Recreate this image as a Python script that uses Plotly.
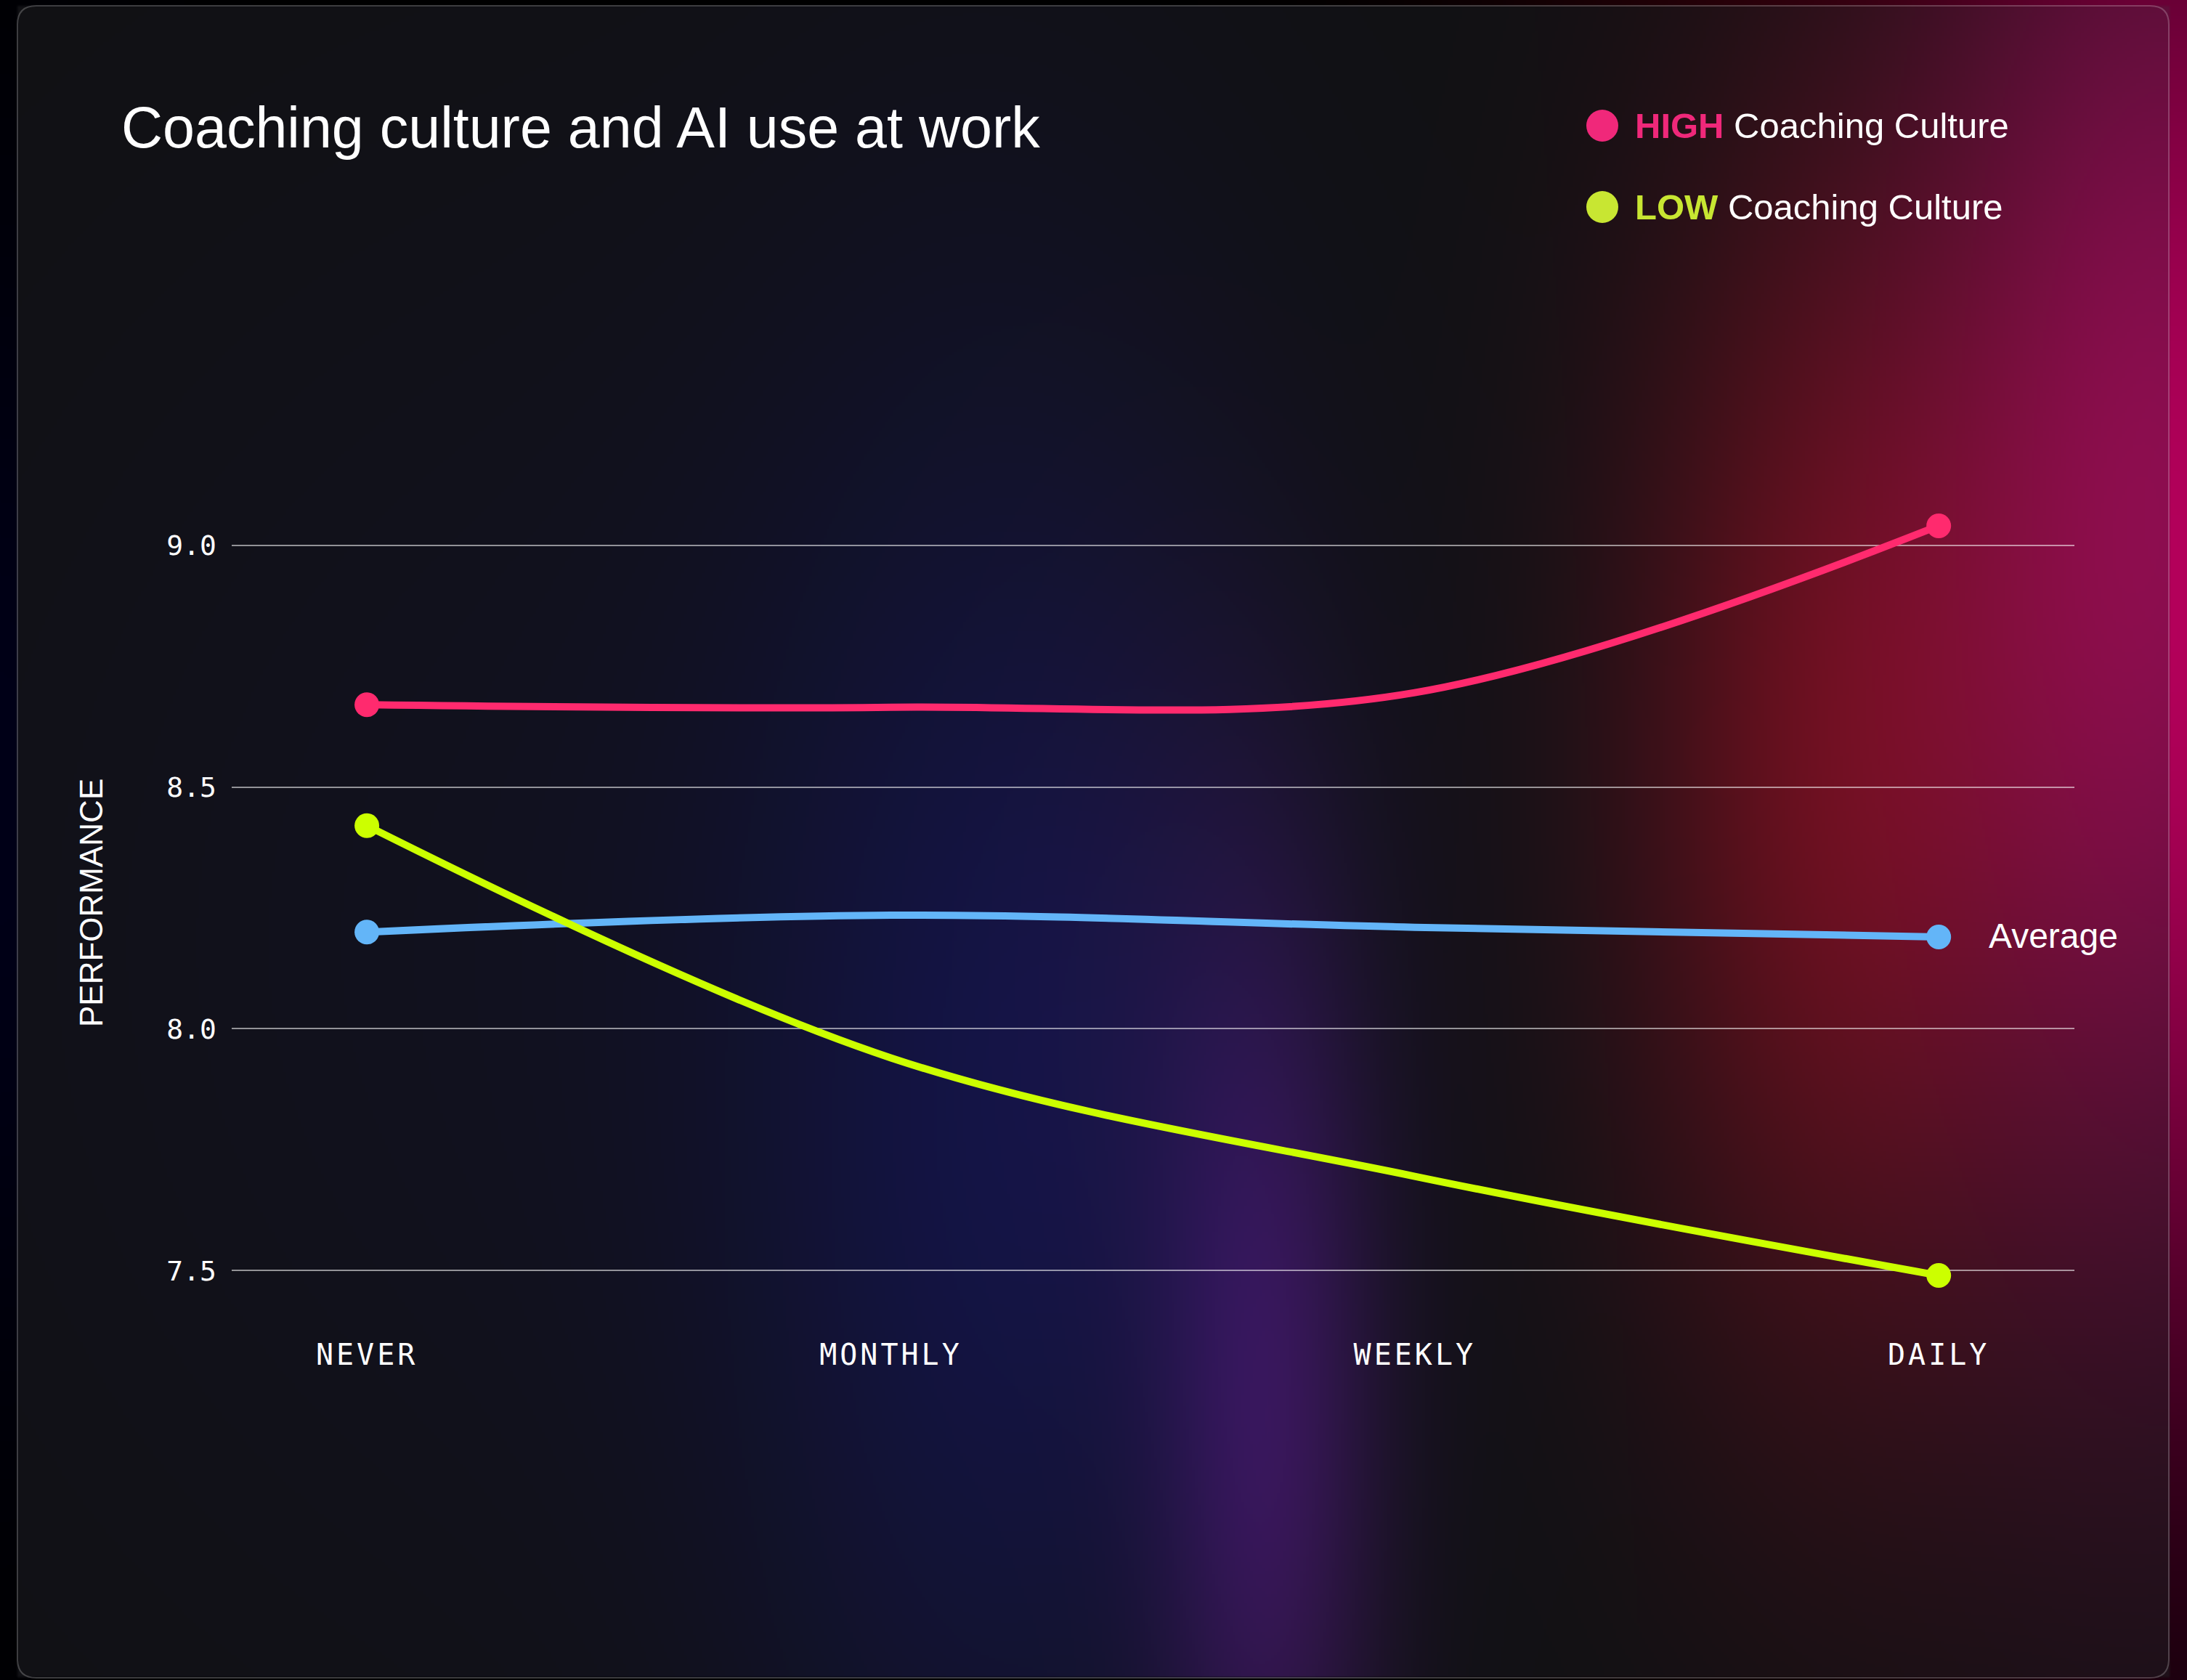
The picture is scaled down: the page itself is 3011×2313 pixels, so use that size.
import base64
import struct
import zlib

import numpy as np
import plotly.graph_objects as go

# ---- data -------------------------------------------------------------
frequency = ["NEVER", "MONTHLY", "WEEKLY", "DAILY"]
high_coaching = [8.67, 8.665, 8.695, 9.04]
low_coaching = [8.42, 7.94, 7.695, 7.49]
average = [8.20, 8.235, 8.21, 8.19]
y_ticks = [7.5, 8.0, 8.5, 9.0]
y_tick_labels = ["7.5", "8.0", "8.5", "9.0"]

# ---- canvas geometry (pixels) ----------------------------------------
W, H = 3011, 2313
PL, PR = 319, 2856          # plot area left / right
PT, PB = 684, 1816          # plot area top / bottom
PW, PH = PR - PL, PB - PT


def xp(px):
    return (px - PL) / PW


def yp(py):
    return (PB - py) / PH


# ---- glow background rendered to a small PNG --------------------------
def png_uri(arr):
    h, w, _ = arr.shape
    raw = b"".join(b"\x00" + arr[r].tobytes() for r in range(h))

    def chunk(tag, data):
        return (struct.pack(">I", len(data)) + tag + data
                + struct.pack(">I", zlib.crc32(tag + data) & 0xFFFFFFFF))

    ihdr = struct.pack(">IIBBBBB", w, h, 8, 2, 0, 0, 0)
    png = (b"\x89PNG\r\n\x1a\n" + chunk(b"IHDR", ihdr)
           + chunk(b"IDAT", zlib.compress(raw, 9)) + chunk(b"IEND", b""))
    return "data:image/png;base64," + base64.b64encode(png).decode()


S = 4
gx = (np.arange(W // S + 1) + 0.5) * S
gy = (np.arange(H // S + 1) + 0.5) * S
X, Y = np.meshgrid(gx, gy)


def g(v, c, s):
    return np.exp(-((v - c) ** 2) / (2 * s * s))


def blob(cx, sx, cy, sy, rgb):
    w = g(X, cx, sx) * g(Y, cy, sy)
    return w[..., None] * np.array(rgb, dtype=float)


card = np.zeros(X.shape + (3,)) + np.array([17, 17, 19], dtype=float)
card += blob(900, 700, 1300, 800, (0, 0, 12))
card += blob(1380, 260, 1600, 750, (2, 3, 40))
card += blob(1750, 110, 2000, 500, (38, 5, 55))
card += blob(1620, 160, 1300, 400, (8, 2, 10))
card += blob(2520, 210, 1050, 600, (78, 0, 6))
card += blob(2990, 250, 700, 760, (118, -4, 60))

outer = np.zeros(X.shape + (3,))
outer += blob(0, 200, 1100, 600, (0, 0, 24))
outer += blob(2450, 300, 900, 700, (80, 0, 15))
outer += blob(3011, 260, 800, 800, (165, 0, 88))

inside = (X >= 23) & (X <= 2987) & (Y >= 7) & (Y <= 2311)
bg = np.where(inside[..., None], card, outer)
bg = np.clip(bg, 0, 255).astype(np.uint8)
bg_uri = png_uri(bg)

# ---- figure -----------------------------------------------------------
PINK, LIME, BLUE = "#ff2a6e", "#ccff00", "#63b5f8"
MONO = "DejaVu Sans Mono, Liberation Mono, monospace"
SANS = "Liberation Sans, Arial, sans-serif"


def curve(values, color):
    return go.Scatter(
        x=frequency, y=values, mode="lines",
        line=dict(color=color, width=10, shape="spline", smoothing=1),
        cliponaxis=False, showlegend=False, hoverinfo="skip",
    )


def end_dots(values, color):
    return go.Scatter(
        x=[frequency[0], frequency[-1]], y=[values[0], values[-1]],
        mode="markers", opacity=1,
        marker=dict(size=34, color=color, opacity=1, line=dict(width=0)),
        cliponaxis=False, showlegend=False, hoverinfo="skip",
    )


fig = go.Figure([
    curve(average, BLUE),
    curve(low_coaching, LIME),
    curve(high_coaching, PINK),
    end_dots(average, BLUE),
    end_dots(low_coaching, LIME),
    end_dots(high_coaching, PINK),
])


def rounded_rect(x0, y0, x1, y1, r):
    pts = [
        f"M {xp(x0 + r)},{yp(y0)}",
        f"L {xp(x1 - r)},{yp(y0)}",
        f"Q {xp(x1)},{yp(y0)} {xp(x1)},{yp(y0 + r)}",
        f"L {xp(x1)},{yp(y1 - r)}",
        f"Q {xp(x1)},{yp(y1)} {xp(x1 - r)},{yp(y1)}",
        f"L {xp(x0 + r)},{yp(y1)}",
        f"Q {xp(x0)},{yp(y1)} {xp(x0)},{yp(y1 - r)}",
        f"L {xp(x0)},{yp(y0 + r)}",
        f"Q {xp(x0)},{yp(y0)} {xp(x0 + r)},{yp(y0)} Z",
    ]
    return " ".join(pts)


shapes = [
    dict(type="path", xref="paper", yref="paper",
         path=rounded_rect(24, 8, 2986, 2310, 26),
         line=dict(color="rgba(255,255,255,0.22)", width=2),
         fillcolor="rgba(0,0,0,0)", layer="below"),
]
legend_rows = [
    (173, "#f0287a", "HIGH"),
    (285, "#c8e632", "LOW"),
]
for cy, col, _ in legend_rows:
    shapes.append(dict(type="circle", xref="paper", yref="paper",
                       x0=xp(2184), x1=xp(2228), y0=yp(cy + 22), y1=yp(cy - 22),
                       fillcolor=col, line=dict(width=0)))

annotations = [
    dict(text="Coaching culture and AI use at work", xref="paper", yref="paper",
         x=xp(165), y=yp(176), xanchor="left", yanchor="middle", showarrow=False,
         font=dict(family=SANS, size=79, color="#ffffff")),
    dict(text="PERFORMANCE", xref="paper", yref="paper", textangle=-90,
         x=xp(125), y=yp(1243), xanchor="center", yanchor="middle", showarrow=False,
         font=dict(family=SANS, size=44, color="#ffffff")),
    dict(text="Average", xref="paper", yref="paper",
         x=xp(2736), y=yp(1288), xanchor="left", yanchor="middle", showarrow=False,
         font=dict(family=SANS, size=48, color="#ffffff")),
]
for cy, col, word in legend_rows:
    annotations.append(dict(
        text=f"<b><span style='color:{col}'>{word}</span></b> Coaching Culture",
        xref="paper", yref="paper", x=xp(2249), y=yp(cy), xanchor="left",
        yanchor="middle", showarrow=False,
        font=dict(family=SANS, size=49, color="#ffffff")))

spaced_labels = [f"<span style='letter-spacing:4px'>{c}</span>" for c in frequency]

fig.update_layout(
    width=W, height=H,
    margin=dict(l=PL, r=W - PR, t=PT, b=H - PB, pad=0),
    paper_bgcolor="#000000", plot_bgcolor="rgba(0,0,0,0)",
    images=[dict(source=bg_uri, xref="paper", yref="paper",
                 x=xp(0), y=yp(0), sizex=W / PW, sizey=H / PH,
                 xanchor="left", yanchor="top", sizing="stretch",
                 layer="below")],
    shapes=shapes, annotations=annotations,
    xaxis=dict(type="category", categoryarray=frequency, range=[-0.258, 3.259],
               tickvals=frequency, ticktext=spaced_labels,
               showgrid=False, zeroline=False, showline=False, ticks="",
               tickfont=dict(family=MONO, size=40, color="#ffffff"),
               ticklabelstandoff=22),
    yaxis=dict(range=[7.4, 9.1], tickvals=y_ticks, ticktext=y_tick_labels,
               showgrid=True, gridcolor="rgba(255,255,255,0.55)", gridwidth=1.5,
               zeroline=False, showline=False, ticks="",
               tickfont=dict(family=MONO, size=38, color="#ffffff"),
               ticklabelstandoff=20),
)

fig.write_html("out.html")
